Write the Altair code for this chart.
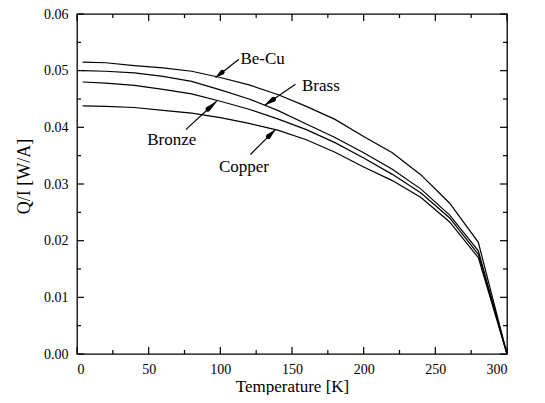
import altair as alt
import pandas as pd

# ---- data ----
T = [4, 20, 40, 60, 80, 100, 120, 140, 160, 180, 200, 220, 240, 260, 280, 300]
be_cu = [0.0515, 0.0514, 0.0509, 0.0505, 0.0499, 0.0488, 0.0475, 0.0458, 0.0437, 0.0414, 0.0384, 0.0355, 0.0316, 0.0266, 0.0197, 0.0]
brass = [0.0500, 0.0499, 0.0496, 0.0490, 0.0481, 0.0466, 0.0450, 0.0430, 0.0406, 0.0382, 0.0355, 0.0326, 0.0291, 0.0245, 0.0182, 0.0]
bronze = [0.0480, 0.0478, 0.0474, 0.0467, 0.0459, 0.0446, 0.0432, 0.0415, 0.0396, 0.0373, 0.0346, 0.0317, 0.0284, 0.0240, 0.0176, 0.0]
copper = [0.0438, 0.0437, 0.0435, 0.0430, 0.0425, 0.0417, 0.0407, 0.0395, 0.0378, 0.0356, 0.0330, 0.0306, 0.0276, 0.0233, 0.0170, 0.0]

names = ["Be-Cu", "Brass", "Bronze", "Copper"]
label_T = [114, 157, 49, 99]
label_Q = [0.0521, 0.0473, 0.0377, 0.0330]
tail_T = [113, 152.4, 75.9, 121]
tail_Q = [0.0520, 0.0476, 0.0396, 0.0352]
tip_T = [96.7, 131, 97.4, 138.4]
tip_Q = [0.0488, 0.0439, 0.0446, 0.0396]

x_major = [0, 50, 100, 150, 200, 250, 300]
x_minor = [25, 75, 125, 175, 225, 275]
y_major = [0.00, 0.01, 0.02, 0.03, 0.04, 0.05, 0.06]
y_minor = [0.005, 0.015, 0.025, 0.035, 0.045, 0.055]

# ---- layout ----
W, H = 430, 340
XMAX, YMAX = 300, 0.06
FONT = "Liberation Serif"

rows = []
for n, vals in zip(names, [be_cu, brass, bronze, copper]):
    for t, q in zip(T, vals):
        rows.append({"series": n, "T": t, "Q": q})
df = pd.DataFrame(rows)

xs = alt.Scale(domain=[0, XMAX], nice=False)
ys = alt.Scale(domain=[0, YMAX], nice=False)

lines = alt.Chart(df).mark_line(strokeWidth=1.2, clip=True).encode(
    x=alt.X("T:Q", scale=xs,
            axis=alt.Axis(title="Temperature [K]", values=x_major, labelPadding=8,
                          titlePadding=2, labelFont=FONT, titleFont=FONT,
                          labelFontSize=14, titleFontSize=17)),
    y=alt.Y("Q:Q", scale=ys,
            axis=alt.Axis(title="Q/I [W/A]", values=y_major, format=".2f", labelPadding=9,
                          titlePadding=10, titleY=162, labelFont=FONT, titleFont=FONT,
                          labelFontSize=14, titleFontSize=18)),
    color=alt.Color("series:N", scale=alt.Scale(domain=names, range=["black"] * 4), legend=None),
    detail="series:N",
)

ann = pd.DataFrame({"name": names, "lt": label_T, "lq": label_Q,
                    "t0": tail_T, "q0": tail_Q, "t1": tip_T, "q1": tip_Q})

# arrowheads as tapering trails: base (wide) -> tip (zero width)
head_rows = []
for n, a, b, c, d in zip(names, tail_T, tail_Q, tip_T, tip_Q):
    head_rows.append({"name": n, "o": 0, "t": a + 0.72 * (c - a), "q": b + 0.72 * (d - b), "w": 5.0})
    head_rows.append({"name": n, "o": 1, "t": c, "q": d, "w": 0.3})
heads_df = pd.DataFrame(head_rows)

texts = alt.Chart(ann).mark_text(align="left", baseline="middle", font=FONT, fontSize=17,
                                 color="black").encode(
    x=alt.X("lt:Q", scale=xs), y=alt.Y("lq:Q", scale=ys), text="name:N")

arrows = alt.Chart(ann).mark_rule(color="black", strokeWidth=1.2).encode(
    x=alt.X("t0:Q", scale=xs), y=alt.Y("q0:Q", scale=ys), x2="t1:Q", y2="q1:Q")

heads = alt.Chart(heads_df).mark_trail(color="black").encode(
    x=alt.X("t:Q", scale=xs), y=alt.Y("q:Q", scale=ys),
    size=alt.Size("w:Q", scale=None, legend=None),
    order="o:Q", detail="name:N")

# inward tick marks on all four sides
def xticks(df_, L, bottom):
    return alt.Chart(df_).mark_rule(color="black", strokeWidth=1.2).encode(
        x=alt.X("v:Q", scale=xs),
        y=alt.value(H if bottom else 0),
        y2=alt.value(H - L if bottom else L))

def yticks(df_, L, left):
    return alt.Chart(df_).mark_rule(color="black", strokeWidth=1.2).encode(
        y=alt.Y("v:Q", scale=ys),
        x=alt.value(0 if left else W),
        x2=alt.value(L if left else W - L))

xmaj = pd.DataFrame({"v": x_major})
xmin = pd.DataFrame({"v": x_minor})
ymaj = pd.DataFrame({"v": y_major})
ymin = pd.DataFrame({"v": y_minor})

ticks = [xticks(xmaj, 7, True), xticks(xmin, 4, True), xticks(xmaj, 7, False), xticks(xmin, 4, False),
         yticks(ymaj, 7, True), yticks(ymin, 4, True), yticks(ymaj, 7, False), yticks(ymin, 4, False)]

chart = alt.layer(lines, arrows, heads, texts, *ticks).properties(
    width=W, height=H,
    background="white",
    autosize=alt.AutoSizeParams(type="none"),
    padding={"left": 69, "top": 6, "right": 30, "bottom": 41},
).configure(
    font=FONT
).configure_view(
    stroke="black", strokeWidth=1.3
).configure_axis(
    domain=False, grid=False, ticks=False,
    labelFont=FONT, titleFont=FONT, labelColor="black", titleColor="black",
    titleFontWeight="normal",
)

chart.save("out.html", embed_options={"renderer": "svg", "actions": False})
